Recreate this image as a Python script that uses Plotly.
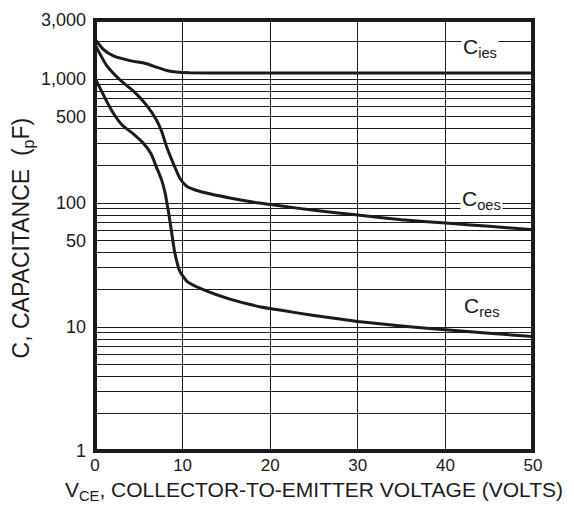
import math
import plotly.graph_objects as go

# Collector-emitter voltage (V) and capacitance (pF) for each curve
v_ies = [0, 0.95, 2.1, 4.0, 5.9, 7.0, 8.2, 9.3, 10.8, 15, 20, 30, 40, 50]
c_ies = [2100, 1740, 1540, 1410, 1330, 1250, 1175, 1140, 1125, 1122, 1120, 1120, 1120, 1120]

v_oes = [0, 1.3, 2.9, 4.4, 5.9, 7.0, 7.6, 8.2, 9.1, 9.7, 10.5, 12, 15.4, 18.8, 21.1, 25, 30,
         35, 40, 45, 50]
c_oes = [1900, 1300, 980, 800, 615, 470, 380, 282, 196, 158, 136, 124, 110, 100, 95, 87.5, 80,
         73.5, 69, 65, 61]

v_res = [0, 0.95, 1.6, 2.1, 2.7, 3.2, 4.4, 5.5, 6.4, 7.0, 7.6, 8.0, 8.4, 8.75, 9.1, 9.7, 10.5,
         12.3, 15.4, 18.8, 21.1, 25, 30, 35, 40, 45, 50]
c_res = [1020, 750, 610, 530, 460, 420, 360, 305, 250, 196, 154, 121, 84, 58, 40, 28, 23.4,
         20.1, 16.8, 14.6, 13.7, 12.4, 11.1, 10.2, 9.5, 8.9, 8.4]

# Axis ticks
x_ticks = [0, 10, 20, 30, 40, 50]
y_labelled = {1: "1", 10: "10", 50: "50", 100: "100", 500: "500", 1000: "1,000", 3000: "3,000"}
y_grid = [m * 10 ** e for e in range(3) for m in range(1, 10)] + [1000, 2000, 3000]

INK = "#1c1a1b"
FONT = "Liberation Sans, Arial, Helvetica, sans-serif"

fig = go.Figure()
for v, c in [(v_ies, c_ies), (v_oes, c_oes), (v_res, c_res)]:
    fig.add_trace(go.Scatter(
        x=v, y=c, mode="lines",
        line=dict(color=INK, width=3, shape="spline", smoothing=0.5),
        hoverinfo="skip", showlegend=False,
    ))

fig.update_xaxes(
    range=[0, 50], tickvals=x_ticks, ticktext=[str(t) for t in x_ticks],
    showgrid=True, gridcolor=INK, gridwidth=1, zeroline=False, showline=False,
    ticks="", ticklabelstandoff=2,
    tickfont=dict(family=FONT, size=17, color=INK),
)
fig.update_yaxes(
    type="log", range=[0, math.log10(3000)],
    tickvals=y_grid, ticktext=[y_labelled.get(v, "") for v in y_grid],
    showgrid=True, gridcolor=INK, gridwidth=1, zeroline=False, showline=False,
    ticks="", ticklabelstandoff=8,
    tickfont=dict(family=FONT, size=18, color=INK),
)

# Curve labels on a white patch that breaks the grid
for txt, xv, yv in [("C<sub>ies</sub>", 44.0, 1800), ("C<sub>oes</sub>", 44.1, 106),
                    ("C<sub>res</sub>", 44.2, 14.4)]:
    fig.add_annotation(
        x=xv, y=math.log10(yv), text=txt, showarrow=False,
        xanchor="center", yanchor="middle", bgcolor="white", borderpad=1,
        font=dict(family=FONT, size=21, color=INK),
    )

# Axis titles
fig.add_annotation(
    xref="paper", yref="paper", x=0.5, y=-0.058, yanchor="top", showarrow=False,
    text="V<sub>CE</sub>, COLLECTOR-TO-EMITTER VOLTAGE (VOLTS)",
    font=dict(family=FONT, size=21, color=INK),
)
fig.add_annotation(
    xref="paper", yref="paper", x=-0.165, y=0.495, xanchor="center", yanchor="middle",
    textangle=-90, showarrow=False,
    text="C, CAPACITANCE  (<sub>p</sub>F)",
    font=dict(family=FONT, size=23, color=INK),
)

# Heavy frame around the plot area
fig.add_shape(type="rect", xref="paper", yref="paper", x0=0, y0=0, x1=1, y1=1,
              line=dict(color=INK, width=4), layer="above")

fig.update_layout(
    width=574, height=508,
    margin=dict(l=95, r=41, t=10, b=57),
    paper_bgcolor="white", plot_bgcolor="white",
)

fig.write_html("out.html")
